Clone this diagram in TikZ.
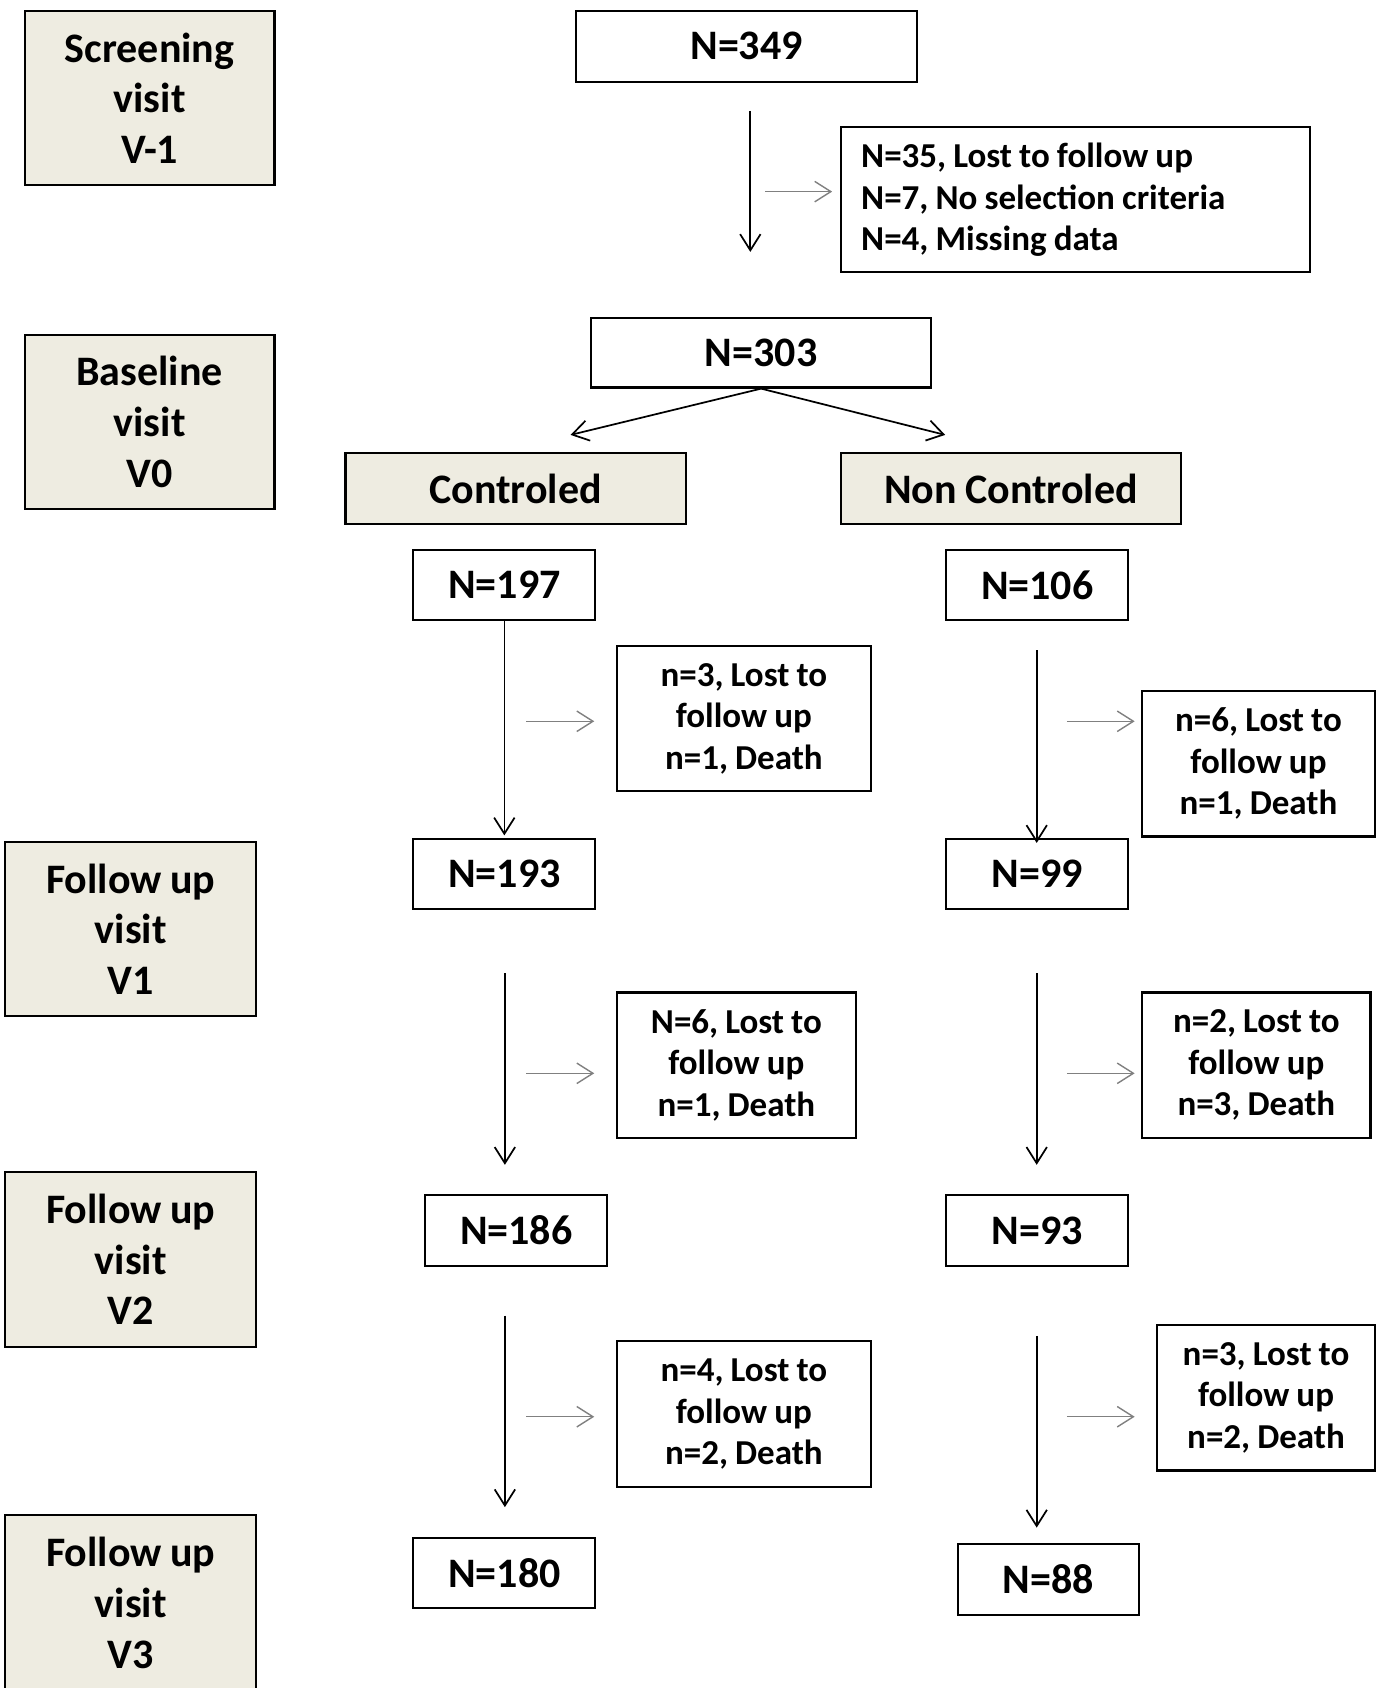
\documentclass[tikz,border=0pt]{standalone}
\usepackage{fontspec}
\setmainfont{Carlito}[WordSpace=0.9]
\usetikzlibrary{arrows.meta}
\definecolor{beige}{HTML}{EEECE1}
\definecolor{garrow}{HTML}{808080}
\begin{document}
\begin{tikzpicture}[x=0.5pt,y=-0.5pt,
  rect/.style n args={4}{at={({(#1+#3)/2},{(#2+#4)/2})},
    minimum width={(#3-#1)*0.5pt}, minimum height={(#4-#2)*0.5pt}},
  box/.style={draw=black, line width=1pt, inner sep=0pt, fill=white, align=center,
    font=\bfseries\fontsize{19.5}{23.5}\selectfont},
  visit/.style={box, fill=beige},
  side/.style={box, font=\bfseries\fontsize{16.25}{19.25}\selectfont},
  arr/.style={-{Straight Barb[length=7.5pt,width=9.5pt]}, line width=0.8pt, draw=black},
  garr/.style={-{Straight Barb[length=7.5pt,width=9.5pt]}, line width=0.65pt, draw=garrow}]
\useasboundingbox (0,0) rectangle (1278,1568);
\fill[white] (0,0) rectangle (1278,1568);

% left visit labels
\node[visit, rect={23}{10}{255}{172}] (v1) {Screening\\visit\\V-1};
\node[visit, rect={23}{311}{255}{473}] (v0) {Baseline\\visit\\V0};
\node[visit, rect={5}{782}{238}{944}] (fv1) {Follow up\\visit\\V1};
\node[visit, rect={5}{1089}{238}{1251}] (fv2) {Follow up\\visit\\V2};
\node[visit, rect={5}{1407}{238}{1571}] (fv3) {Follow up\\visit\\V3};

% top
\node[box, rect={535}{10}{852}{76}] (n349) {N=349};
\node[side, rect={781}{118}{1217}{253}, text width=199pt, align=flush left] (excl)
  {N=35, Lost to follow up\\N=7, No selection criteria\\N=4, Missing data};
\node[box, rect={549}{295}{865}{360}] (n303) {N=303};
\node[visit, rect={321}{421}{637}{487}] (ctrl) {Controled};
\node[visit, rect={781}{421}{1097}{487}] (nctrl) {Non Controled};

% columns
\node[box, rect={384}{511}{553}{576}] (n197) {N=197};
\node[box, rect={879}{511}{1048}{576}] (n106) {N=106};
\node[side, rect={573}{600}{809}{735}] (l1) {n=3, Lost to\\follow up\\n=1, Death};
\node[side, rect={1061}{642}{1277}{777}] (r1) {n=6, Lost to\\follow up\\n=1, Death};
\node[box, rect={384}{779}{553}{844}] (n193) {N=193};
\node[box, rect={879}{779}{1048}{844}] (n99) {N=99};
\node[side, rect={573}{922}{795}{1057}] (l2) {N=6, Lost to\\follow up\\n=1, Death};
\node[side, rect={1061}{922}{1273}{1057}] (r2) {n=2, Lost to\\follow up\\n=3, Death};
\node[box, rect={395}{1110}{564}{1176}] (n186) {N=186};
\node[box, rect={879}{1110}{1048}{1176}] (n93) {N=93};
\node[side, rect={573}{1246}{809}{1381}] (l3) {n=4, Lost to\\follow up\\n=2, Death};
\node[side, rect={1075}{1231}{1277}{1366}] (r3) {n=3, Lost to\\follow up\\n=2, Death};
\node[box, rect={384}{1429}{553}{1494}] (n180) {N=180};
\node[box, rect={890}{1434}{1058}{1500}] (n88) {N=88};

% connector end points
\coordinate (a0s) at (697,103);  \coordinate (a0e) at (697,234);
\coordinate (g0) at (711,178);
\coordinate (dl) at (530,404);   \coordinate (dr) at (878,404);
\coordinate (r1s) at (963,604);  \coordinate (r1e) at (963,783);
\coordinate (l2s) at (469,904);  \coordinate (l2e) at (469,1082);
\coordinate (r2s) at (963,904);  \coordinate (r2e) at (963,1082);
\coordinate (l3s) at (469,1222); \coordinate (l3e) at (469,1400);
\coordinate (r3s) at (963,1241); \coordinate (r3e) at (963,1419);
\coordinate (gl1) at (489,670);  \coordinate (gr1) at (991,670);
\coordinate (gl2) at (489,997);  \coordinate (gr2) at (991,997);
\coordinate (gl3) at (489,1316); \coordinate (gr3) at (991,1316);

% main arrows
\draw[arr] (a0s) -- (a0e);
\draw[arr] (n303.south) -- (dl);
\draw[arr] (n303.south) -- (dr);
\draw[arr] (n197.south) -- ([yshift=1pt]n193.north);
\draw[arr] (r1s) -- (r1e);
\draw[arr] (l2s) -- (l2e);
\draw[arr] (r2s) -- (r2e);
\draw[arr] (l3s) -- (l3e);
\draw[arr] (r3s) -- (r3e);

% grey side arrows
\draw[garr] (g0) -- ++(62,0);
\draw[garr] (gl1) -- ++(63,0);
\draw[garr] (gr1) -- ++(63,0);
\draw[garr] (gl2) -- ++(63,0);
\draw[garr] (gr2) -- ++(63,0);
\draw[garr] (gl3) -- ++(63,0);
\draw[garr] (gr3) -- ++(63,0);
\end{tikzpicture}
\end{document}
